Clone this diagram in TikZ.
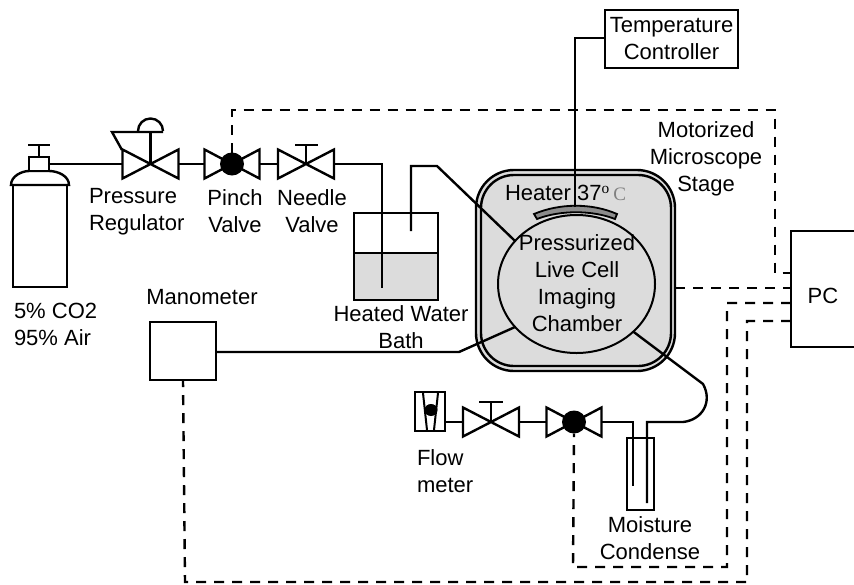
\documentclass[tikz,border=0pt]{standalone}
\usepackage{fontspec}
\setmainfont{Liberation Sans}
\newfontfamily\serifpart{Liberation Serif}
\usetikzlibrary{shapes.geometric,calc}
\definecolor{chgray}{HTML}{DCDCDC}
\tikzset{
  x=1pt,y=-1pt,
  every node/.style={inner sep=0pt,outer sep=0pt,text=black},
  pipe/.style={line width=2.4pt,line join=miter},
  ctrl/.style={line width=2.4pt,dash pattern=on 10pt off 8pt},
  box/.style={draw,line width=2.4pt,rectangle,fill=white},
  tie/.style={rectangle,minimum width=#1,minimum height=29pt},
  tie/.default=56pt,
  ball/.style={ellipse,fill=black,minimum width=24pt,minimum height=23pt},
  lab/.style={align=center,font=\fontsize{22}{27}\selectfont},
  labl/.style={align=left,font=\fontsize{22}{27}\selectfont},
}
\newcommand{\drawtie}[1]{\draw[pipe,fill=white] (#1.north west) -- (#1.south east) -- (#1.north east) -- (#1.south west) -- cycle;}
\begin{document}
\begin{tikzpicture}
\useasboundingbox (0,0) rectangle (854,584);
% chamber
\draw[line width=2.4pt,fill=chgray,rounded corners=38pt] (476,170) rectangle (675,371);
\draw[line width=2.4pt,fill=chgray,rounded corners=33pt] (481,175) rectangle (671,366);
\node[draw,ellipse,line width=2pt,fill=chgray,minimum width=157pt,minimum height=138pt] (chamber) at (576.5,284) {};
% heater
\draw[line width=1.8pt,fill=gray!90] (534,214) .. controls (560,203) and (592,203) .. (617,214) -- (615,219) .. controls (592,210) and (560,210) .. (537,219) -- cycle;
\coordinate (heatertop) at (575,207);
% cylinder
\draw[line width=2.4pt] (13,185) rectangle (67,287);
\draw[line width=2.4pt,fill=white] (11,185) .. controls (11,176) and (22,171) .. (29,171) -- (49,171) .. controls (58,171) and (69,176) .. (69,185) -- cycle;
\node[box,minimum width=20pt,minimum height=14pt] (neck) at (39,164) {};
\coordinate (handle) at (39,145);
\draw[pipe] (neck.north) -- (handle);
\draw[pipe] (28,145) -- (50,145);
% valves
\node[tie=56pt] (reg) at (150.5,164) {};
\node[tie=55pt] (pinch) at (232,164) {};
\node[tie=56pt] (needle) at (306,164) {};
\node[tie=56pt] (fvalve) at (491,422) {};
\node[tie=55pt] (pinchb) at (574,422) {};
\node[box,minimum width=30pt,minimum height=39pt] (flow) at (430,411.5) {};
\draw[pipe] (neck.east) -- (reg.west);
\draw[pipe] (reg.east) -- (pinch.west);
\draw[pipe] (pinch.east) -- (needle.west);
\draw[pipe] (flow.east |- fvalve) -- (fvalve.west);
\draw[pipe] (fvalve.east) -- (pinchb.west);
\drawtie{reg}\drawtie{pinch}\drawtie{needle}\drawtie{fvalve}\drawtie{pinchb}
% regulator top
\draw[pipe] (reg.center) -- (reg.center |- 0,132);
\draw[pipe] (163,132) -- (112,132) -- (122,150);
\draw[pipe] (138,131) arc[start angle=180,end angle=0,radius=12.5pt];
% needle stems
\draw[pipe] (needle.center) -- (needle.center |- 0,145);
\draw[pipe] ($(needle.center |- 0,145)+(-11,0)$) -- ++(23,0);
\draw[pipe] (fvalve.center) -- (fvalve.center |- 0,402);
\draw[pipe] ($(fvalve.center |- 0,402)+(-12,0)$) -- ++(24,0);
% balls
\node[ball] (ballA) at (pinch.center) {};
\node[ball] (ballB) at (pinchb.center) {};
% flow meter inside
\draw[line width=2pt] (423,393) -- (427,430) (438,393) -- (434,430);
\node[ellipse,fill=black,minimum width=13pt,minimum height=12pt] (fball) at (431,410) {};
% water bath
\node[box,minimum width=84pt,minimum height=87pt] (bath) at (396,256.5) {};
\fill[chgray] (355,253) rectangle (437,299);
\draw[line width=2.4pt] (354,253) -- (438,253);
\draw[line width=2.4pt] (354,213) rectangle (438,300);
\coordinate (inA) at (382,288);
\coordinate (inB) at (411,231);
\draw[pipe] (needle.east) -- (382,164) -- (inA);
\draw[pipe] (inB) -- (411,166) -- (437,166) -- (chamber.145);
% manometer
\node[box,minimum width=66pt,minimum height=58pt] (mano) at (183,351) {};
\draw[pipe] (mano.east |- 0,352) -- (459,352) -- (chamber.215);
% temp controller
\node[box,minimum width=133pt,minimum height=58pt,lab] (temp) at (671.5,39) {Temperature\\Controller};
\draw[pipe] (heatertop) -- (575,38) -- (temp.west |- 0,38);
% condenser
\node[box,minimum width=27pt,minimum height=72pt] (cond) at (640.5,474) {};
\coordinate (condA) at (633,486);
\coordinate (condB) at (647,503);
\draw[pipe] (pinchb.east) -- (633,422) -- (condA);
\draw[pipe] (condB) -- (647,422) -- (683,422) .. controls (702,420) and (713,402) .. (703,384) -- (chamber.-40);
% PC
\node[box,minimum width=80pt,minimum height=116pt] (pc) at (831,289) {};
\node[lab] (pclabel) at (823,296) {PC};
% dashed
\draw[ctrl] (ballA.north) -- (232,110) -- (775,110) -- (775,273) -- (pc.west |- 0,273);
\draw[ctrl] (675,288) -- (pc.west |- 0,288);
\draw[ctrl] (pc.west |- 0,303) -- (727,303) -- (727,567) -- (573,567) -- (ballB.south);
\draw[ctrl] (pc.west |- 0,321) -- (747,321) -- (747,582) -- (185,582) -- (mano.south);
% labels
\node[labl,anchor=west] (t1) at (89,211.5) {Pressure\\Regulator};
\node[lab] (t2) at (235,211.5) {Pinch\\Valve};
\node[lab] (t3) at (312,211.5) {Needle\\Valve};
\node[labl,anchor=west] (t4) at (14,324) {5\% CO2\\95\% Air};
\node[lab] (t5) at (202,297) {Manometer};
\node[lab] (t6) at (401,327) {Heated Water\\Bath};
\node[lab] (t7) at (577,283) {Pressurized\\Live Cell\\Imaging\\Chamber};
\node[lab,anchor=west] (t8) at (505,193) {Heater 37{\serifpart\textsuperscript{o}\,\textcolor{gray}{\fontsize{19}{27}\selectfont C}}};
\node[lab] (t9) at (706,159) {Motorized\\Microscope\\Stage};
\node[labl,anchor=west] (t10) at (417,471) {Flow\\meter};
\node[lab] (t11) at (650,538) {Moisture\\Condense};
\end{tikzpicture}
\end{document}
